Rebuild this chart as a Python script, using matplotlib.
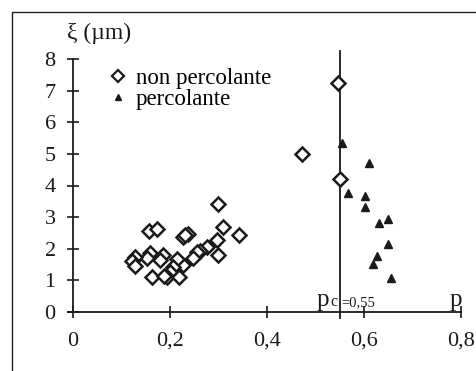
import matplotlib
matplotlib.use("Agg")
import matplotlib.pyplot as plt
from matplotlib.lines import Line2D
from matplotlib.patches import Rectangle

plt.rcParams['font.family'] = ['Liberation Serif', 'DejaVu Serif']

# Correlation length xi (um) versus occupation fraction p
p_non = [0.546, 0.473, 0.550, 0.299, 0.309, 0.342, 0.156, 0.174, 0.226, 0.238,
         0.230, 0.296, 0.299, 0.276, 0.262, 0.255, 0.247, 0.227, 0.214, 0.207,
         0.200, 0.193, 0.218, 0.162, 0.185, 0.179, 0.158, 0.152, 0.128, 0.121,
         0.128, 0.188]
xi_non = [7.26, 4.99, 4.21, 3.40, 2.70, 2.44, 2.57, 2.63, 2.36, 2.45,
          2.42, 2.27, 1.80, 2.06, 1.93, 1.88, 1.69, 1.48, 1.67, 1.43,
          1.27, 1.11, 1.11, 1.11, 1.81, 1.64, 1.87, 1.69, 1.74, 1.61,
          1.46, 1.14]

p_perc = [0.554, 0.568, 0.611, 0.603, 0.603, 0.631, 0.650, 0.650, 0.627, 0.619, 0.656]
xi_perc = [5.34, 3.75, 4.70, 3.68, 3.31, 2.82, 2.93, 2.14, 1.78, 1.50, 1.06]

p_c = 0.55
x_ticks = [0, 0.2, 0.4, 0.6, 0.8]
x_ticklabels = ["0", "0,2", "0,4", "0,6", "0,8"]
y_ticks = [0, 1, 2, 3, 4, 5, 6, 7, 8]

W, H = 476, 371
fig = plt.figure(figsize=(W / 100, H / 100), dpi=100)

# outer frame
fig.patches.append(Rectangle((12 / W, -0.1), 1.2, 1 - 12 / H + 0.1,
                             transform=fig.transFigure, fill=False,
                             edgecolor='#222222', linewidth=1.0))

ax = fig.add_axes([73 / W, 1 - 311.7 / H, 388 / W, 8.3 * 31.55 / H])
ax.set_xlim(0, 0.8)
ax.set_ylim(0, 8.3)
ax.patch.set_alpha(0)

for s in ['top', 'right']:
    ax.spines[s].set_visible(False)
ax.spines['left'].set_bounds(0, 8)
ax.spines['bottom'].set_bounds(-0.01, 0.8)
for s in ['left', 'bottom']:
    ax.spines[s].set_linewidth(1.3)
    ax.spines[s].set_color('#1a1a1a')

ax.set_xticks(x_ticks)
ax.set_xticklabels(x_ticklabels)
ax.set_yticks(y_ticks)
ax.tick_params(axis='both', direction='inout', length=8, width=1.2,
               color='#1a1a1a', labelsize=16, labelcolor='#1a1a1a')
ax.tick_params(axis='y', pad=8.5)
ax.tick_params(axis='x', pad=10.5)

# critical threshold line
ax.plot([p_c, p_c], [-0.2, 8.27], color='#1a1a1a', linewidth=1.3, clip_on=False)

ax.plot(p_non, xi_non, linestyle='none', marker='D', markersize=7.2,
        markerfacecolor='white', markeredgecolor='#1a1a1a', markeredgewidth=1.8,
        clip_on=False, zorder=3)
ax.plot(p_perc, xi_perc, linestyle='none', marker='^', markersize=5.5,
        markerfacecolor='#1a1a1a', markeredgecolor='#1a1a1a', clip_on=False,
        zorder=3)

handles = [
    Line2D([], [], linestyle='none', marker='D', markersize=6.5,
           markerfacecolor='white', markeredgecolor='#1a1a1a', markeredgewidth=1.6),
    Line2D([], [], linestyle='none', marker='^', markersize=5,
           markerfacecolor='#1a1a1a', markeredgecolor='#1a1a1a'),
]
ax.legend(handles, ["non percolante", "percolante"], loc='upper left',
          bbox_to_anchor=(0.097, 0.93), frameon=False, fontsize=16.5,
          handlelength=0.6, handletextpad=0.5, labelspacing=0.0,
          borderpad=0, borderaxespad=0)

# axis annotations
ax.text(-0.012, 8.83, "ξ (µm)", fontsize=17, ha='left', va='center',
        color='#1a1a1a', clip_on=False)
ax.text(0.503, 0.18, "p", fontsize=18, ha='left', va='baseline', color='#1a1a1a')
ax.text(0.530, 0.18, "c", fontsize=11.5, ha='left', va='baseline', color='#1a1a1a')
ax.text(0.554, 0.18, "=0,55", fontsize=10.5, ha='left', va='baseline', color='#1a1a1a')
ax.text(0.777, 0.18, "p", fontsize=18, ha='left', va='baseline', color='#1a1a1a')

fig.savefig("out.png", dpi=100)
